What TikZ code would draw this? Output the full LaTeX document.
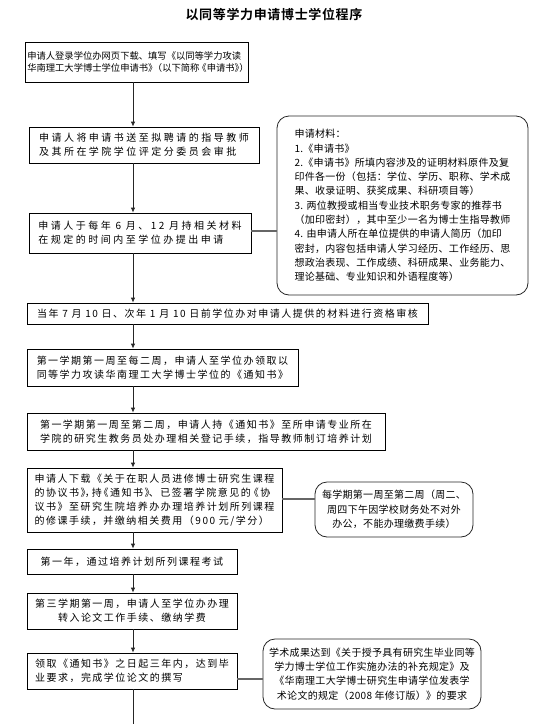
\documentclass[tikz,border=0pt]{standalone}
\usepackage{fontspec}
\setmainfont{Noto Sans CJK SC}
\newfontfamily\cjkA[LetterSpace=15]{Noto Sans CJK SC}
\newfontfamily\cjkB[LetterSpace=25]{Noto Sans CJK SC}
\newfontfamily\cjkC[LetterSpace=3]{Noto Sans CJK SC}
\newfontfamily\cjkD[LetterSpace=0]{Noto Sans CJK SC}
\newfontfamily\cjkT[LetterSpace=5]{Noto Sans CJK SC Bold}
\usetikzlibrary{arrows.meta}
\begin{document}
\begin{tikzpicture}[x=1pt,y=1pt,
  stepbox/.style={draw=black, line width=0.8pt, inner sep=0pt, align=left,
    font=\cjkA\fontsize{10}{14}\selectfont},
  widebox/.style={stepbox, font=\cjkB\fontsize{10}{14}\selectfont},
  densebox/.style={stepbox, font=\cjkD\fontsize{9.3}{12.5}\selectfont},
  notebox/.style={draw=black!85, line width=0.8pt, rounded corners=12pt, inner sep=0pt,
    font=\cjkC\fontsize{10}{14.3}\selectfont},
  flow/.style={draw=black!85, line width=0.8pt, -{Latex[length=5pt,width=4.5pt]}},
  link/.style={draw=black!60, line width=1.1pt},
  plain/.style={draw=black!85, line width=0.8pt}
]
\useasboundingbox (0,0) rectangle (553,-724);
\coordinate (ax) at (133,0);
\coordinate (bot) at (133,-724);

\node[font=\cjkT\fontsize{13}{15}\selectfont] (title) at (274,-14) {以同等学力申请博士学位程序};

\node[densebox, minimum width=220pt, minimum height=40pt] (b1) at (137,-62)
  {\hspace*{2pt}申请人登录学位办网页下载、填写《以同等学力攻读\\\hspace*{2pt}华南理工大学博士学位申请书》\kern-4.5pt（以下简称\kern-2pt《申请书》\kern-4.5pt）};
\node[widebox, minimum width=230pt, minimum height=36pt] (b2) at (144,-145)
  {申请人将申请书送至拟聘请的指导教师\\及其所在学院学位评定分委员会审批};
\node[widebox, minimum width=222pt, minimum height=40pt] (b3) at (140,-233)
  {申请人于每年 6 月、12 月持相关材料\\在规定的时间内至学位办提出申请};
\node[stepbox, minimum width=401pt, minimum height=21pt] (b4) at (227.5,-313.5)
  {当年 7 月 10 日、次年 1 月 10 日前学位办对申请人提供的材料进行资格审核};
\node[stepbox, minimum width=271pt, minimum height=37pt] (b5) at (162.5,-367.5)
  {第一学期第一周至每二周，申请人至学位办领取以\\同等学力攻读华南理工大学博士学位的《通知书》};
\node[stepbox, minimum width=358pt, minimum height=37pt] (b6) at (206,-431.5)
  {第一学期第一周至第二周，申请人持《通知书》至所申请专业所在\\学院的研究生教务员处办理相关登记手续，指导教师制订培养计划};
\node[stepbox, minimum width=255pt, minimum height=64pt] (b7) at (154.5,-500)
  {申请人下载《关于在职人员进修博士研究生课程\\的协议书》\kern-5.75pt，\kern-3pt 持\kern-3pt《通知书》\kern-5.75pt、已签署学院意见的\kern-2pt《协\\议书》至研究生院培养办办理培养计划所列课程\\的修课手续，并缴纳相关费用（900 元/学分）};
\node[stepbox, minimum width=210pt, minimum height=25pt] (b8) at (132,-561.5)
  {第一年，通过培养计划所列课程考试};
\node[stepbox, align=center, minimum width=210pt, minimum height=36pt] (b9) at (132,-611)
  {第三学期第一周，申请人至学位办办理\\转入论文工作手续、缴纳学费};
\node[stepbox, minimum width=210pt, minimum height=36pt] (b10) at (132,-671)
  {领取《通知书》之日起三年内，达到毕\\业要求，完成学位论文的撰写};

\node[notebox, align=left, minimum width=251pt, minimum height=179pt] (r1) at (402.5,-205.5)
  {申请材料：\\1.《申请书》\\2.《申请书》所填内容涉及的证明材料原件及复\\印件各一份（包括：学位、学历、职称、学术成\\果、收录证明、获奖成果、科研项目等）\\3. 两位教授或相当专业技术职务专家的推荐书\\（加印密封），其中至少一名为博士生指导教师\\4. 由申请人所在单位提供的申请人简历（加印\\密封，内容包括申请人学习经历、工作经历、思\\想政治表现、工作成绩、科研成果、业务能力、\\理论基础、专业知识和外语程度等）};
\node[notebox, align=center, minimum width=158pt, minimum height=55pt] (r2) at (394,-509.5)
  {每学期第一周至第二周（周二、\\周四下午因学校财务处不对外\\办公，不能办理缴费手续）};
\node[notebox, align=center, minimum width=218pt, minimum height=70pt] (r3) at (372,-674)
  {学术成果达到《关于授予具有研究生毕业同等\\学力博士学位工作实施办法的补充规定》及\\《华南理工大学博士研究生申请学位发表学\\术论文的规定（2008 年修订版）》的要求};

\draw[flow] (b1.south -| ax) -- (b2.north -| ax);
\draw[flow] (b2.south -| ax) -- (b3.north -| ax);
\draw[flow] (b3.south -| ax) -- (b4.north -| ax);
\draw[flow] (b4.south -| ax) -- (b5.north -| ax);
\draw[flow] (b5.south -| ax) -- (b6.north -| ax);
\draw[flow] (b6.south -| ax) -- (b7.north -| ax);
\draw[flow] (b7.south -| ax) -- (b8.north -| ax);
\draw[flow] (b8.south -| ax) -- (b9.north -| ax);
\draw[flow] (b9.south -| ax) -- (b10.north -| ax);
\draw[plain] (b10.south -| ax) -- (bot);

\draw[link] (b3.east |- 0,-231) -- (r1.west |- 0,-231);
\draw[link] (b7.east |- 0,-499) -- (r2.west |- 0,-499);
\draw[link] (b10.east |- 0,-679) -- (r3.west |- 0,-679);
\end{tikzpicture}
\end{document}
